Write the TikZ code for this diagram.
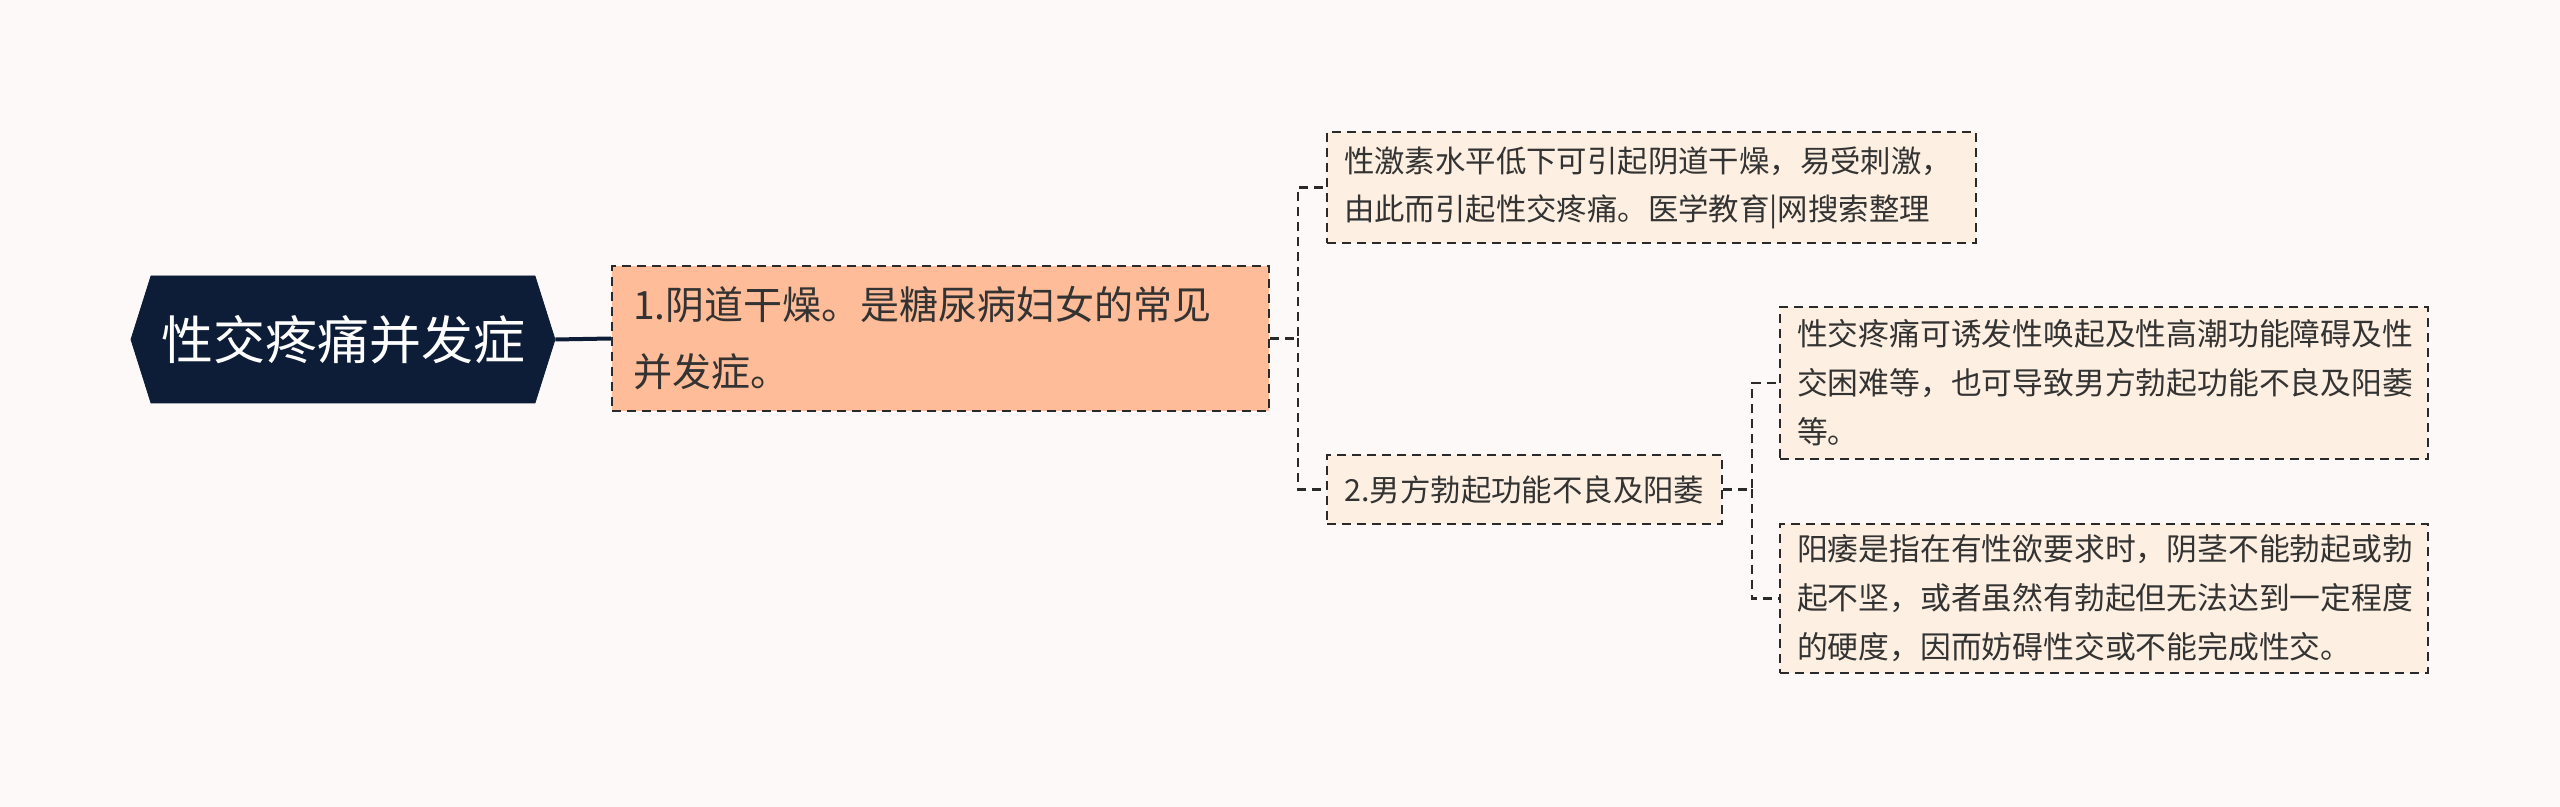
\documentclass[tikz,border=0pt]{standalone}
\usepackage{fontspec}
\setmainfont{Noto Sans CJK SC}
\usepackage{tikz}
\usetikzlibrary{shapes.symbols}

\definecolor{navy}{HTML}{0E1D37}
\definecolor{salmon}{HTML}{FFBC98}
\definecolor{cream}{HTML}{FDEFE1}
\definecolor{inkline}{HTML}{2A2A2A}
\definecolor{inktext}{HTML}{333333}
\definecolor{paper}{HTML}{FCF9F8}

\begin{document}
\begin{tikzpicture}[x=0.5pt, y=-0.5pt,
  rootbox/.style={signal, signal to=west and east, signal pointer angle=145, fill=navy, draw=navy,
    text=white, font=\fontsize{26}{32}\selectfont, minimum width=212pt, minimum height=63.5pt, inner sep=0pt},
  mainbox/.style={rectangle, fill=salmon, draw=inkline, line width=1.2pt, dash pattern=on 4.5pt off 3pt,
    text=inktext, align=left, inner xsep=10.5pt, font=\fontsize{19.5}{33.5}\selectfont},
  subbox/.style={rectangle, fill=cream, draw=inkline, line width=1.2pt, dash pattern=on 4.5pt off 3pt,
    text=inktext, align=left, inner xsep=8.5pt, font=\fontsize{15.2}{24}\selectfont},
  leafbox/.style={subbox, font=\fontsize{15.4}{24.5}\selectfont},
  link/.style={draw=inkline, line width=1.2pt, dash pattern=on 4.5pt off 3pt},
  rootlink/.style={draw=navy, line width=2pt}]
\useasboundingbox[fill=paper] (0,0) rectangle (2560,807);

\node[rootbox] (root) at (343,339.5) {性交疼痛并发症};
\node[mainbox, text width=307.5pt, minimum height=72.5pt] (dry) at (940.5,338.5) {1.阴道干燥。是糖尿病妇女的常见\\并发症。};

\node[subbox, text width=307.5pt, minimum height=55.5pt] (hormone) at (1651.5,187.5) {性激素水平低下可引起阴道干燥，易受刺激，\\由此而引起性交疼痛。医学教育|网搜索整理};
\node[subbox, minimum width=197.5pt, minimum height=34.5pt, align=center] (ed) at (1524.5,489.5) {2.男方勃起功能不良及阳萎};

\node[leafbox, text width=307pt, minimum height=76pt] (arousal) at (2104,383) {性交疼痛可诱发性唤起及性高潮功能障碍及性\\交困难等，也可导致男方勃起功能不良及阳萎\\等。};
\node[leafbox, text width=307pt, minimum height=74.5pt] (impot) at (2104,598.5) {阳痿是指在有性欲要求时，阴茎不能勃起或勃\\起不坚，或者虽然有勃起但无法达到一定程度\\的硬度，因而妨碍性交或不能完成性交。};

\coordinate (j1) at (1298,338.5);
\coordinate (j2) at (1752,489.5);

\draw[rootlink] (root.east) -- (dry.west);
\draw[link] (dry.east) -- (j1) |- (hormone.west);
\draw[link] (j1) |- (ed.west);
\draw[link] (ed.east) -- (j2) |- (arousal.west);
\draw[link] (j2) |- (impot.west);
\end{tikzpicture}
\end{document}
